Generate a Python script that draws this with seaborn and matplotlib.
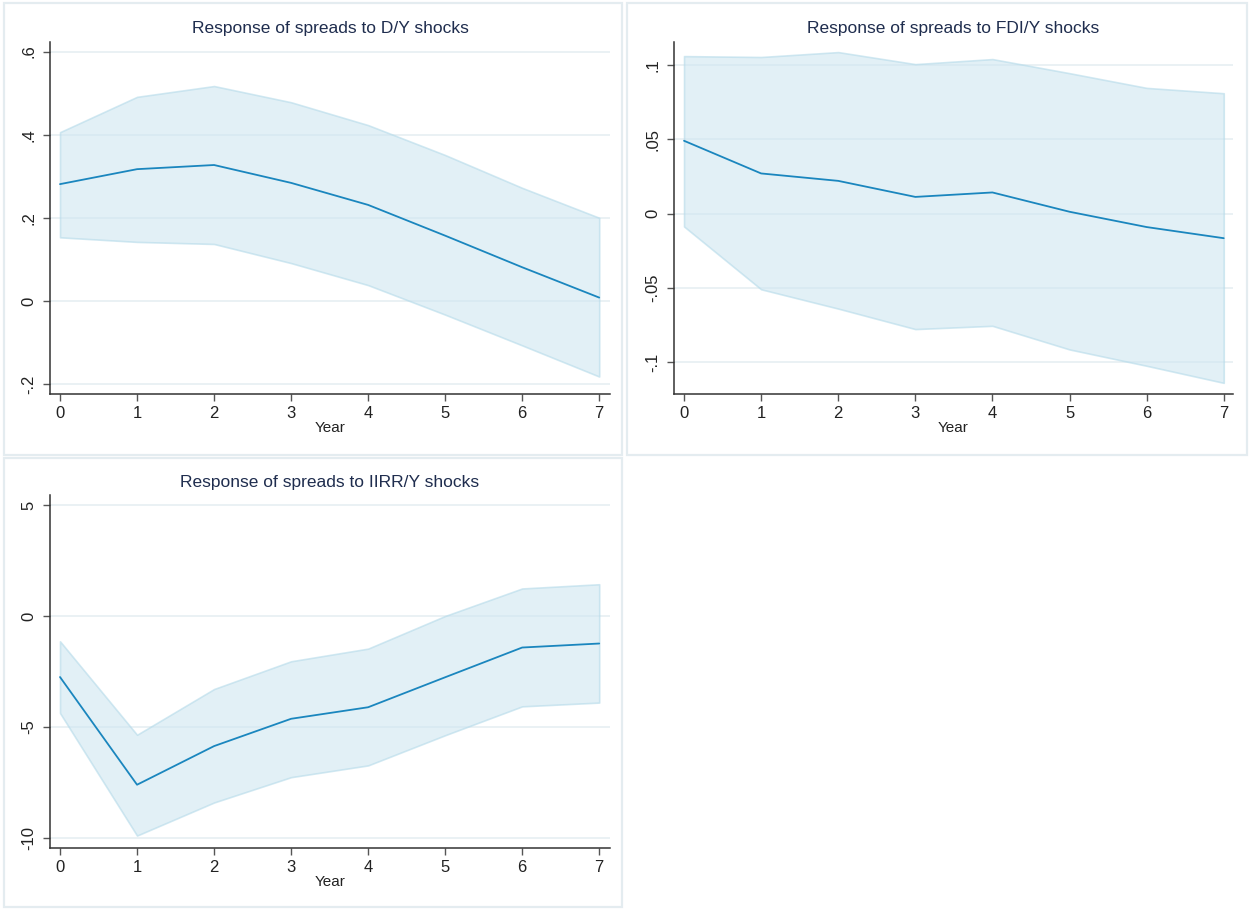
import numpy as np
import pandas as pd
import matplotlib
matplotlib.use("Agg")
import matplotlib.pyplot as plt
import seaborn as sns
from matplotlib.patches import Rectangle

sns.set_theme(style="white")
plt.rcParams['font.family'] = ['Liberation Sans', 'DejaVu Sans']

# ---------------- data ----------------
years = [0, 1, 2, 3, 4, 5, 6, 7]

dy_mean = [0.281, 0.317, 0.327, 0.284, 0.231, 0.157, 0.081, 0.008]
dy_upper = [0.406, 0.491, 0.517, 0.478, 0.423, 0.351, 0.272, 0.200]
dy_lower = [0.153, 0.142, 0.137, 0.091, 0.038, -0.033, -0.107, -0.182]

fdi_mean = [0.049, 0.027, 0.022, 0.0112, 0.0142, 0.0012, -0.0091, -0.0166]
fdi_upper = [0.106, 0.1054, 0.1087, 0.1006, 0.104, 0.0945, 0.0846, 0.081]
fdi_lower = [-0.0087, -0.051, -0.064, -0.0778, -0.0756, -0.0915, -0.1025, -0.1140]

iirr_mean = [-2.75, -7.60, -5.86, -4.63, -4.11, -2.76, -1.42, -1.24]
iirr_upper = [-1.14, -5.35, -3.29, -2.04, -1.47, 0.00, 1.24, 1.43]
iirr_lower = [-4.37, -9.89, -8.40, -7.26, -6.73, -5.37, -4.07, -3.90]

titles = ["Response of spreads to D/Y shocks",
          "Response of spreads to FDI/Y shocks",
          "Response of spreads to IIRR/Y shocks"]
x_label = "Year"

dy_ticks = [-0.2, 0, 0.2, 0.4, 0.6]
dy_ticklabels = ["-.2", "0", ".2", ".4", ".6"]
fdi_ticks = [-0.1, -0.05, 0, 0.05, 0.1]
fdi_ticklabels = ["-.1", "-.05", "0", ".05", ".1"]
iirr_ticks = [-10, -5, 0, 5]
iirr_ticklabels = ["-10", "-5", "0", "5"]

# ---------------- styling ----------------
W, H = 1249, 909
LINE_C = "#1a86be"
FILL_C = "#cfe6f1"
EDGE_C = "#b4dae9"
GRID_C = "#e6eff2"
BORDER_C = "#e4ecf0"
TITLE_C = "#1f2d4e"
TEXT_C = "#222222"

fig = plt.figure(figsize=(W / 100, H / 100), dpi=100)
fig.patch.set_facecolor("white")


def rect(l, r, t, b):
    return [l / W, 1 - b / H, (r - l) / W, (b - t) / H]


# panel borders
for (l, t, r, b) in [(4, 3, 622, 455), (627, 3, 1247, 455), (4, 458, 622, 907)]:
    fig.patches.append(Rectangle((l / W, 1 - b / H), (r - l) / W, (b - t) / H,
                                 transform=fig.transFigure, fill=False,
                                 edgecolor=BORDER_C, linewidth=1.6, zorder=0))

panels = [
    dict(box=(50, 610, 42, 394), xlim=(-0.13, 7.14), ylim=(-0.224, 0.623),
         mean=dy_mean, up=dy_upper, lo=dy_lower, ticks=dy_ticks,
         tl=dy_ticklabels, title=titles[0], tpos=(330, 28), xlpos=(330, 428)),
    dict(box=(674, 1233, 42, 394), xlim=(-0.13, 7.12), ylim=(-0.1215, 0.1155),
         mean=fdi_mean, up=fdi_upper, lo=fdi_lower, ticks=fdi_ticks,
         tl=fdi_ticklabels, title=titles[1], tpos=(953, 28), xlpos=(953, 428)),
    dict(box=(50, 610, 495, 848), xlim=(-0.13, 7.14), ylim=(-10.45, 5.45),
         mean=iirr_mean, up=iirr_upper, lo=iirr_lower, ticks=iirr_ticks,
         tl=iirr_ticklabels, title=titles[2], tpos=(330, 482), xlpos=(330, 882)),
]

for p in panels:
    l, r, t, b = p["box"]
    ax = fig.add_axes(rect(l, r, t, b))
    ax.set_facecolor("white")
    df = pd.DataFrame({"Year": years, "mean": p["mean"], "up": p["up"], "lo": p["lo"]})
    for yv in p["ticks"]:
        ax.axhline(yv, color=GRID_C, linewidth=1.2, zorder=0)
    ax.fill_between(df["Year"], df["lo"], df["up"], facecolor=FILL_C, alpha=0.6,
                    edgecolor=EDGE_C, linewidth=1.2, zorder=1)
    sns.lineplot(data=df, x="Year", y="mean", ax=ax, color=LINE_C, linewidth=1.3,
                 zorder=3)
    ax.set_xlim(*p["xlim"])
    ax.set_ylim(*p["ylim"])
    ax.set_xticks(years)
    ax.set_xticklabels([str(y) for y in years])
    ax.set_yticks(p["ticks"])
    ax.set_yticklabels(p["tl"], rotation=90, va="center")
    ax.set_xlabel("")
    ax.set_ylabel("")
    for s in ["top", "right"]:
        ax.spines[s].set_visible(False)
    for s in ["left", "bottom"]:
        ax.spines[s].set_color("#333333")
        ax.spines[s].set_linewidth(1.1)
    ax.tick_params(axis="both", which="major", direction="out", length=5,
                   width=1, color="#555555", labelsize=12, labelcolor=TEXT_C,
                   left=True, bottom=True)
    ax.tick_params(axis="x", pad=4)
    ax.tick_params(axis="y", pad=5)
    ax.grid(False)
    fig.text(p["tpos"][0] / W, 1 - p["tpos"][1] / H, p["title"], ha="center",
             va="center", fontsize=12.5, color=TITLE_C)
    fig.text(p["xlpos"][0] / W, 1 - p["xlpos"][1] / H, x_label, ha="center",
             va="center", fontsize=11, color=TEXT_C)

fig.savefig("out.png", dpi=100, facecolor="white")
